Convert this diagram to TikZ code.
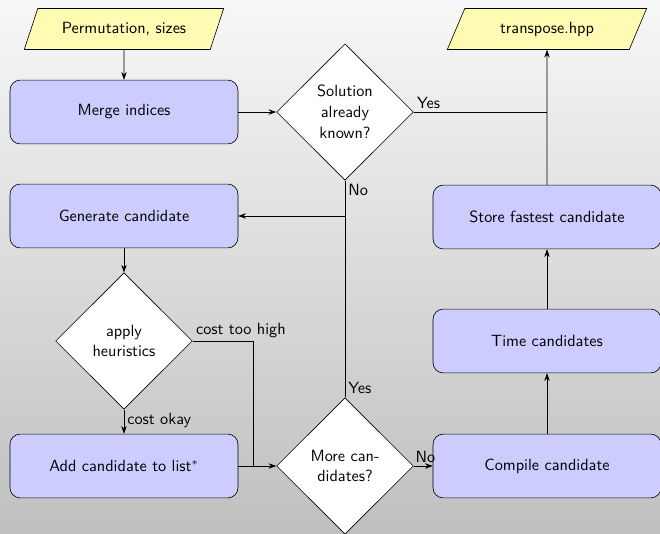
\documentclass[tikz,border=0pt]{standalone}
\usetikzlibrary{shapes.geometric,arrows.meta}

\tikzset{
  txt/.style={font=\sffamily\fontsize{10.5pt}{13.5pt}\selectfont},
  block/.style={draw, rounded corners=0.23cm, fill=blue!20, minimum width=5.18cm, minimum height=1.45cm, txt},
  decision/.style={draw, diamond, fill=white, minimum width=3.11cm, minimum height=3.1cm, inner sep=0pt, align=center, txt},
  io/.style={draw, trapezium, trapezium left angle=66, trapezium right angle=114, trapezium stretches=true, fill=yellow!30, minimum width=4.55cm, minimum height=0.93cm, txt},
  flow/.style={-{Stealth[length=5pt,width=3.5pt]}},
  lbl/.style={txt, inner sep=2pt}
}

\begin{document}
\begin{tikzpicture}
  % background
  \shade[top color=black!3, bottom color=black!25] (0,0) rectangle (15,12.114);
  \useasboundingbox (0,0) rectangle (15,12.114);

  % left column
  \node[io] (perm) at (2.818,11.455) {Permutation, sizes};
  \node[block] (merge) at (2.818,9.568) {Merge indices};
  \node[block] (gen) at (2.818,7.205) {Generate candidate};
  \node[decision] (heur) at (2.818,4.364) {apply\\heuristics};
  \node[block] (add) at (2.818,1.523) {Add candidate to list$^*$};

  % middle column
  \node[decision] (known) at (7.841,9.568) {Solution\\already\\known?};
  \node[decision] (more) at (7.841,1.523) {More can-\\didates?};

  % right column
  \node[io] (out) at (12.432,11.455) {transpose.hpp};
  \node[block] (store) at (12.432,7.182) {Store fastest candidate};
  \node[block] (time) at (12.432,4.364) {Time candidates};
  \node[block] (comp) at (12.432,1.523) {Compile candidate};

  \coordinate (jn) at (5.75,1.523);

  \draw[flow] (perm) -- (merge);
  \draw[flow] (merge) -- (known);
  \draw (known.east) node[lbl,above right] {Yes} -- (known.east -| store.north);
  \draw[flow] (known.south) node[lbl,below right] {No} |- (gen.east);
  \draw (more.north) node[lbl,above right] {Yes} -- (more.north |- gen.east);
  \draw[flow] (gen) -- (heur);
  \draw[flow] (heur.south) -- node[lbl,right,pos=0.45] {cost okay} (add.north);
  \draw (heur.east) node[lbl,above right] {cost too high} -| (jn);
  \draw[flow] (add.east) -- (more.west);
  \draw[flow] (more.east) node[lbl,above right,inner xsep=1pt] {No} -- (comp.west);
  \draw[flow] (comp) -- (time);
  \draw[flow] (time) -- (store);
  \draw[flow] (store.north) -- (out.south);
\end{tikzpicture}
\end{document}
